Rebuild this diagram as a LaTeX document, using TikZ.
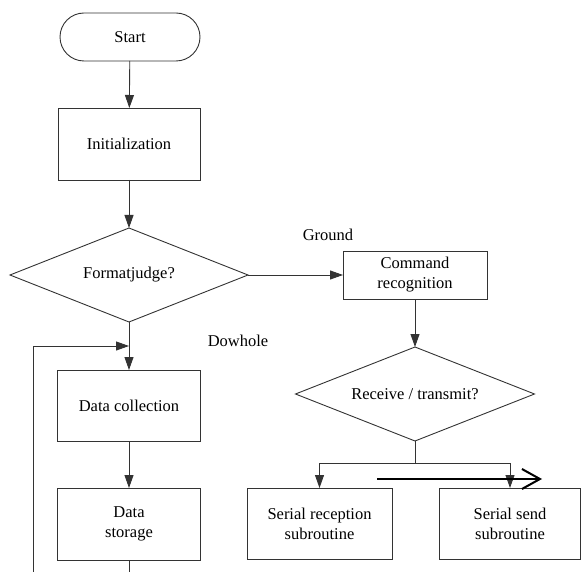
\documentclass[tikz,border=0pt]{standalone}
\usepackage{fontspec}
\setmainfont{Liberation Serif}
\newfontfamily\chartfont{Liberation Serif}
\usetikzlibrary{shapes.geometric,arrows.meta}

\begin{document}
\begin{tikzpicture}[x=1pt,y=-1pt,
  font=\chartfont\fontsize{16.5}{20}\selectfont,
  line/.style={draw=black!80,line width=0.9pt},
  arrow/.style={line,-{Triangle[length=13pt,width=9pt]}},
  box/.style={line,rectangle,align=center,inner sep=0pt,outer sep=0pt},
  terminal/.style={box,rounded corners=24pt},
  decision/.style={line,diamond,aspect=2.53,inner sep=0pt,outer sep=0pt}]
\useasboundingbox (0,0) rectangle (581,572);
\node[terminal,minimum width=140,minimum height=48] (start) at (130,37) {Start};
\node[box,minimum width=142,minimum height=72] (init) at (129,144) {Initialization};
\node[decision,minimum width=238,minimum height=94] (fmt) at (129,275) {Formatjudge?};
\node[box,minimum width=144,minimum height=48] (cmd) at (415,275) {Command\\recognition};
\node[decision,minimum width=239,minimum height=94] (rt) at (415,394) {Receive / transmit?};
\node[box,minimum width=143,minimum height=71] (coll) at (129,405.5) {Data collection};
\node[box,minimum width=143,minimum height=72] (store) at (129,524) {Data\\storage};
\node[box,minimum width=145,minimum height=71] (recv) at (319.5,523.5) {Serial reception\\subroutine};
\node[box,minimum width=141,minimum height=71] (send) at (510,523.5) {Serial send\\subroutine};
\node (ground) at (328,235) {Ground};
\node (dowhole) at (238,341) {Dowhole};
\coordinate (loopjoin) at (129,346);
\coordinate (loopbot) at (33,572);
\coordinate (storeout) at (129,572);
\coordinate (branch) at (415,463);
\coordinate (strayA) at (377,479);
\coordinate (strayB) at (542,479);
\draw[arrow] (start) -- (init);
\draw[arrow] (init) -- (fmt.north);
\draw[arrow] (fmt.east) -- (cmd.west);
\draw[arrow] (cmd) -- (rt.north);
\draw[arrow] (fmt.south) -- (coll.north);
\draw[arrow] (loopbot) |- (loopjoin);
\draw[arrow] (coll) -- (store);
\draw[line] (store.south) -- (storeout);
\draw[line] (rt.south) -- (branch);
\draw[arrow] (branch) -| (recv.north);
\draw[arrow] (branch) -| (send.north);
\draw[line width=2pt,-{Straight Barb[length=18pt,width=20pt]}] (strayA) -- (strayB);
\end{tikzpicture}
\end{document}
